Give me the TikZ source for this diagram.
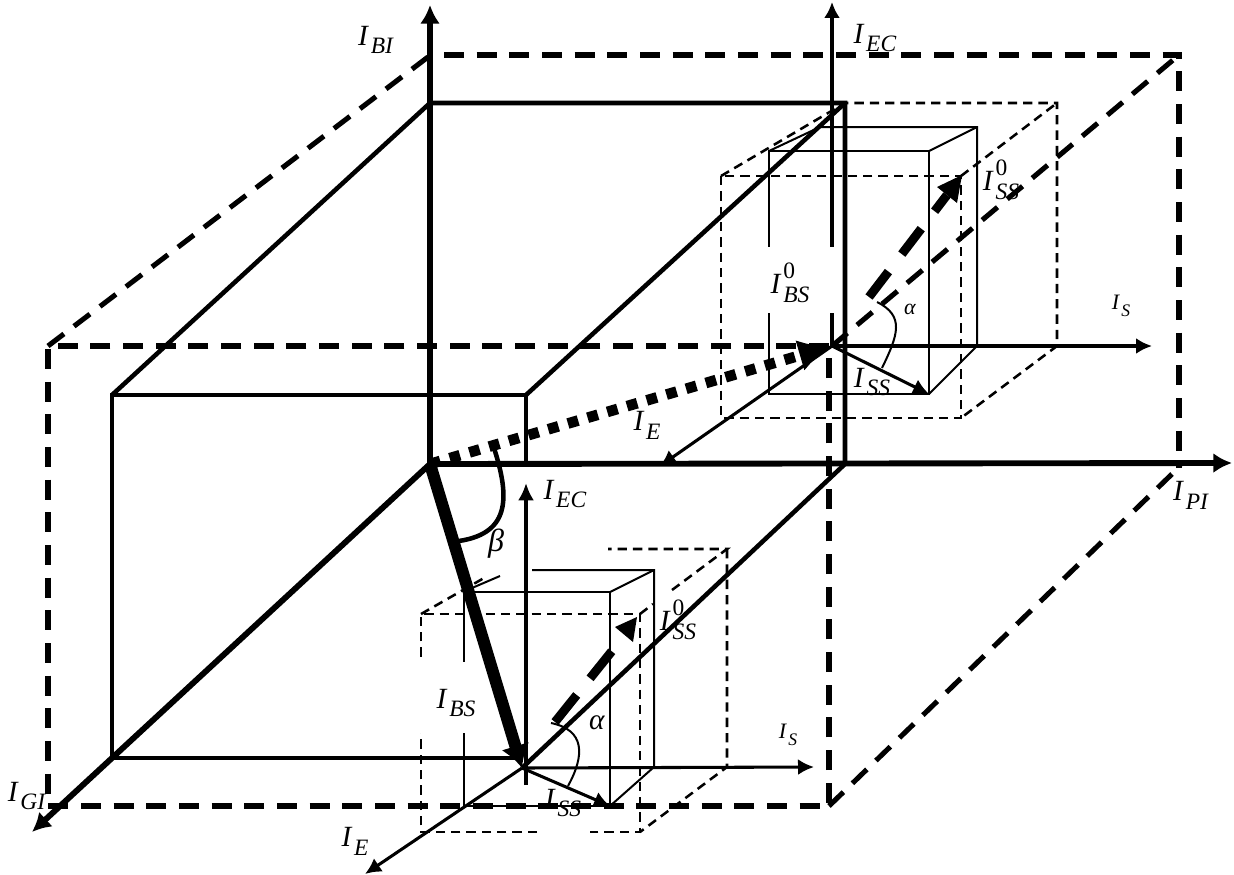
\documentclass[tikz,border=0pt]{standalone}
\usepackage{fontspec}
\setmainfont{Liberation Serif}
\usetikzlibrary{arrows.meta}
\newcommand{\Icur}[2]{\textit{I}\kern.06em\makebox[0pt][l]{\raisebox{.52em}{\scalebox{.8}{#2}}}\raisebox{-.3em}{\scalebox{.8}{\textit{#1}}}}
\tikzset{
  frame/.style={line width=3.4pt},
  bigdash/.style={line width=3.8pt,dash pattern=on 15pt off 9.5pt},
  thinbox/.style={line width=1.5pt},
  thindash/.style={line width=1.9pt,dash pattern=on 7pt off 4.5pt},
  axisthin/.style={line width=2.3pt,-{Latex[length=12pt,width=12pt]}},
  axisbold/.style={line width=4.4pt,-{Latex[length=14pt,width=15pt]}},
  lab/.style={inner sep=0pt,font=\fontsize{22}{22}\selectfont},
  labsmall/.style={inner sep=0pt,font=\fontsize{16.5}{16.5}\selectfont}
}
\begin{document}
\begin{tikzpicture}[x=0.75pt,y=-0.75pt,>=Latex]
  \useasboundingbox (0,0) rectangle (1234,874);
  \coordinate (O) at (430,464);
  \coordinate (Ou) at (832,346);
  \coordinate (Od) at (522,768);

  % outer dashed prism
  \draw[bigdash] (829,346) -- (48,346) -- (48,806) -- (829,806) -- (829,346);
  \draw[bigdash] (48,346) -- (428,57);
  \draw[bigdash] (444,55) -- (1179,55) -- (1179,468);
  \draw[bigdash] (829,806) -- (1172,474);
  \draw[bigdash] (Ou) -- (1179,55);

  % upper small box
  \draw[thinbox] (769,394) -- (769,151) -- (929,151) -- (929,394) -- cycle;
  \draw[thinbox] (769,151) -- (820,127) -- (977,127) -- (977,346) -- (929,394);
  \draw[thinbox] (929,151) -- (977,127);
  \draw[thindash] (721,176) rectangle (961,418);
  \draw[thindash] (721,176) -- (845,103) -- (1057,103) -- (1057,346) -- (961,418);
  \draw[thindash] (961,176) -- (1057,103);
  \draw[axisthin] (Ou) -- (832,2);
  \draw[axisthin] (Ou) -- (1152,346);
  \draw[axisthin] (Ou) -- (660,466);
  \draw[axisthin] (Ou) -- (929,394);

  % lower small box
  \draw[thinbox] (464,806) -- (464,592) -- (610,592) -- (610,806) -- cycle;
  \draw[thinbox] (472,588) -- (500,576);
  \draw[thinbox] (532,570) -- (654,570) -- (654,767) -- (610,806);
  \draw[thinbox] (610,592) -- (654,570);
  \draw[thindash] (537,832) -- (421,832) -- (421,614) -- (640,614) -- (640,832) -- (590,832);
  \draw[thindash] (421,614) -- (484,578);
  \draw[thindash] (640,614) -- (653,604);
  \draw[thindash] (672,590) -- (727,549) -- (608,549);
  \draw[thindash] (727,549) -- (727,767) -- (640,832);
  \draw[axisthin] (Od) -- (814,767);
  \draw[axisthin] (Od) -- (365,874);
  \draw[axisthin] (Od) -- (610,806);

  % white ground of two labels
  \fill[white] (768,247) rectangle (834,313);
  \fill[white] (418,662) rectangle (490,733);

  % solid cube
  \draw[frame] (112,758) -- (112,395) -- (526,395) -- (526,464);
  \draw[frame] (112,395) -- (430,103) -- (845,103) -- (845,464);
  \draw[frame] (526,395) -- (845,103);
  \draw[frame] (112,758) -- (518,758);
  \draw[frame] (845,464) -- (Od);
  \draw[line width=3pt,-{Latex[length=13pt,width=12pt]}] (526,785) -- (526,483);

  % main axes
  \draw[axisbold] (O) -- (430,5);
  \draw[axisbold] (O) -- (1232,463);
  \draw[axisbold] (O) -- (32,832);

  % resulting currents
  \draw[line width=9pt,-{Latex[length=17pt,width=22pt]}] (O) -- (Od);
  \draw[line width=8pt,dash pattern=on 8pt off 7.4pt,-{Latex[length=25pt,width=24pt]}] (O) -- (Ou);
  \draw[line width=6.7pt,dash pattern=on 24pt off 16.5pt] (869,297) -- (947,195);
  \fill (962,175) -- (937,187) -- (957,203) -- cycle;
  \draw[line width=6.7pt,dash pattern=on 26pt off 16pt] (555,722) -- (612,651);
  \fill (615,627) -- (637,617) -- (633,642) -- cycle;

  % angles
  \draw[line width=3.4pt] (492,442) .. controls (510,495) and (512,533) .. (459,541);
  \draw[line width=1.5pt] (877,302) .. controls (905,316) and (898,335) .. (882,368);
  \draw[line width=1.5pt] (551,723) .. controls (585,730) and (585,755) .. (568,786);

  \node[lab] (ibi) at (376,40) {\Icur{BI}{}};
  \node[lab] (ipi) at (1191,495) {\Icur{PI}{}};
  \node[lab] (igi) at (27,796) {\Icur{GI}{}};
  \node[lab] (ecu) at (875,38) {\Icur{EC}{}};
  \node[lab] (ssu) at (1001,180) {\Icur{SS}{0}};
  \node[lab] (bsu) at (790,283) {\Icur{BS}{0}};
  \node[labsmall] (alu) at (910,309) {\textit{α}};
  \node[labsmall] (isu) at (1121,306) {\Icur{S}{}};
  \node[lab] (ssiu) at (872,382) {\Icur{SS}{}};
  \node[lab] (ieu) at (647,425) {\Icur{E}{}};
  \node[lab] (ecd) at (565,494) {\Icur{EC}{}};
  \node[lab,font=\fontsize{24}{24}\selectfont] (bet) at (496,544) {\textit{β}};
  \node[lab] (bsd) at (456,703) {\Icur{BS}{}};
  \node[lab] (ald) at (597,723) {\textit{α}};
  \node[lab] (ssd) at (678,620) {\Icur{SS}{0}};
  \node[labsmall] (isd) at (788,735) {\Icur{S}{}};
  \node[lab] (ssid) at (563,803) {\Icur{SS}{}};
  \node[lab] (ied) at (355,841) {\Icur{E}{}};
\end{tikzpicture}
\end{document}
